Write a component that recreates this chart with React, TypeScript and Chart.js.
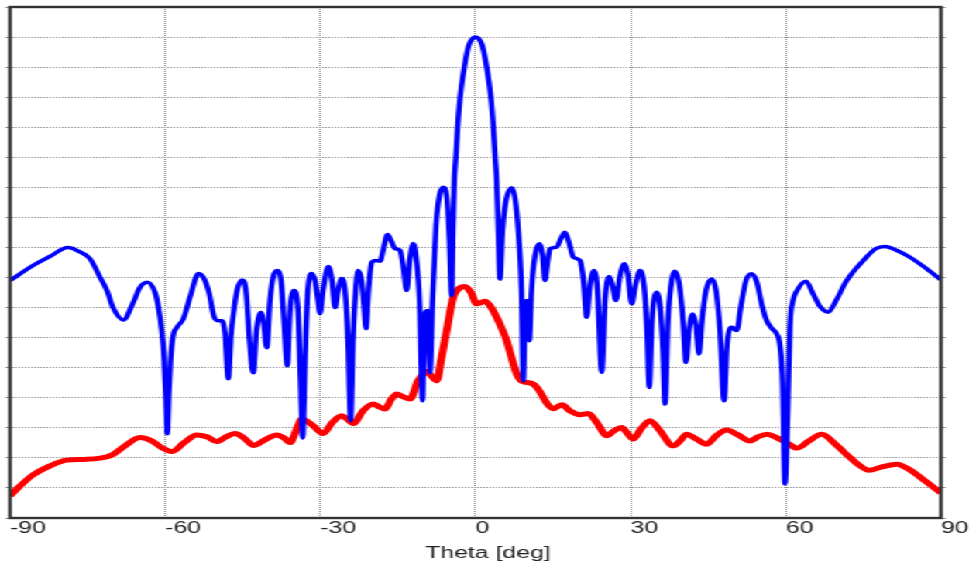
import React, { useEffect, useRef } from 'react';
import { Chart, registerables } from 'chart.js';

Chart.register(...registerables);

// The reference image is horizontally stretched; the chart is drawn narrower and scaled in X.
const CANVAS_W = 630;
const CANVAS_H = 567;
const STRETCH = 976 / CANVAS_W;

const FONT = '"Liberation Sans", Arial, sans-serif';

const xTicks = [-90, -60, -30, 0, 30, 60, 90];
const xTitle = 'Theta [deg]';

// [theta (deg), level (dB)]
const blueSeries: [number, number][] = [
  [-90, -16.2], [-85.55, -15.2], [-82.27, -14.6], [-78.79, -14.0], [-76.46, -14.3], [-74.53, -14.75],
  [-72.6, -15.98], [-71.25, -16.87], [-70.09, -18.0], [-68.09, -18.82], [-66.16, -17.65], [-64.87, -16.65],
  [-63.45, -16.31], [-61.97, -16.98], [-61.29, -18.0], [-60.67, -19.53], [-60.23, -21.2], [-59.84, -24.2],
  [-59.59, -26.4], [-59.26, -23.53], [-58.97, -21.53], [-58.49, -19.93], [-57.71, -19.31], [-56.49, -18.75],
  [-55.2, -17.31], [-53.55, -15.73], [-52.49, -16.07], [-51.53, -17.0], [-50.56, -18.6], [-49.79, -18.87],
  [-49.01, -18.87], [-48.43, -19.73], [-47.79, -22.73], [-47.27, -19.87], [-46.79, -18.4], [-46.11, -16.87],
  [-45.14, -16.17], [-44.37, -16.87], [-43.69, -20.2], [-42.96, -22.33], [-42.34, -19.53], [-41.47, -18.33],
  [-40.89, -19.2], [-40.37, -20.67], [-39.73, -17.53], [-39.15, -16.0], [-38.38, -15.53], [-37.6, -16.2],
  [-37.02, -18.87], [-36.39, -21.87], [-35.86, -18.2], [-35.09, -16.87], [-34.32, -18.2], [-33.83, -22.87],
  [-33.41, -26.67], [-32.96, -21.53], [-32.48, -17.2], [-31.67, -15.73], [-31.03, -16.2], [-30.45, -17.53],
  [-30.06, -18.4], [-29.48, -16.87], [-28.46, -15.27], [-27.74, -16.2], [-27.16, -18.0], [-26.58, -16.87],
  [-25.87, -16.07], [-25.23, -16.87], [-24.65, -20.2], [-24.13, -25.53], [-23.68, -20.2], [-23.1, -16.53],
  [-22.66, -15.53], [-22.04, -16.2], [-21.56, -17.87], [-21.17, -19.4], [-20.69, -16.87], [-20.07, -15.0],
  [-19.24, -14.87], [-18.46, -14.91], [-17.79, -14.07], [-17.01, -13.13], [-16.34, -13.53], [-15.56, -14.07],
  [-14.6, -14.2], [-13.92, -15.4], [-13.3, -16.87], [-12.76, -15.0], [-12.03, -13.73], [-11.41, -14.87],
  [-10.83, -17.53], [-10.25, -24.2], [-9.86, -18.53], [-9.28, -18.2], [-8.8, -22.33], [-8.31, -17.53],
  [-7.64, -12.53], [-6.96, -10.53], [-6.23, -10.0], [-5.51, -10.73], [-5.03, -13.53], [-4.6, -17.2],
  [-4.35, -12.9], [-4.09, -9.53], [-3.8, -8.0], [-3.45, -6.0], [-2.97, -4.0], [-2.16, -2.0],
  [-1.35, -0.6], [-0.7, -0.15], [0, 0], [0.7, -0.15], [1.35, -0.6], [2.16, -2.0],
  [2.97, -4.0], [3.45, -6.0], [3.8, -8.0], [4.09, -9.53], [4.4, -12.9], [4.74, -16.1],
  [5.22, -12.87], [5.9, -10.87], [7.0, -10.02], [7.64, -10.73], [8.27, -12.87], [8.89, -16.87],
  [9.24, -22.87], [9.57, -18.2], [9.96, -17.53], [10.4, -20.2], [10.83, -16.87], [11.5, -14.53],
  [12.34, -13.75], [12.95, -14.53], [13.44, -16.2], [13.92, -15.0], [14.4, -14.09], [15.7, -13.98],
  [16.53, -13.4], [17.3, -12.98], [18.08, -13.67], [18.91, -14.65], [20.2, -14.87], [20.88, -16.2],
  [21.5, -18.65], [22.14, -16.53], [22.91, -15.53], [23.59, -16.87], [24.4, -22.31], [25.04, -17.53],
  [25.87, -15.93], [26.49, -16.53], [27.16, -17.53], [27.94, -15.87], [28.77, -15.09], [29.48, -15.87],
  [30.2, -17.75], [30.93, -16.53], [31.8, -15.53], [32.58, -16.53], [33.16, -19.53], [33.6, -23.31],
  [34.12, -18.87], [35.03, -16.98], [35.77, -18.2], [36.25, -20.87], [36.64, -24.42], [37.22, -18.87],
  [37.8, -16.53], [38.57, -15.58], [39.44, -16.53], [40.12, -18.87], [40.7, -21.65], [41.28, -19.53],
  [41.99, -18.42], [42.63, -19.2], [43.21, -21.09], [43.79, -18.87], [44.56, -16.87], [45.67, -16.09],
  [46.5, -16.87], [47.27, -19.53], [48.05, -24.2], [48.62, -20.53], [49.53, -19.31], [50.5, -19.53],
  [51.33, -17.87], [52.3, -16.2], [53.4, -15.75], [54.42, -16.33], [55.39, -17.87], [56.3, -18.87],
  [57.33, -19.4], [58.23, -19.75], [58.87, -20.53], [59.36, -22.87], [59.84, -29.73], [60.32, -25.53],
  [60.81, -19.2], [61.39, -17.53], [62.16, -16.87], [63.9, -16.25], [65.25, -17.07], [66.61, -17.93],
  [68.21, -18.31], [69.7, -17.53], [71.77, -16.2], [74.98, -14.87], [77.43, -14.07], [79.17, -13.93],
  [81.49, -14.2], [84.0, -14.65], [87.24, -15.42], [90, -16.15],
];

const redSeries: [number, number][] = [
  [-90, -30.53], [-88.07, -29.87], [-85.55, -29.13], [-82.27, -28.53], [-79.04, -28.15], [-75.5, -28.1],
  [-72.6, -28.02], [-70.28, -27.8], [-67.77, -27.2], [-64.87, -26.65], [-62.55, -26.87], [-60.61, -27.33],
  [-58.74, -27.58], [-56.36, -27.0], [-53.9, -26.47], [-51.91, -26.6], [-50.04, -26.91], [-48.24, -26.6],
  [-46.5, -26.38], [-44.76, -26.67], [-42.96, -27.17], [-40.7, -26.8], [-38.44, -26.47], [-37.02, -26.67],
  [-35.86, -26.98], [-34.7, -26.2], [-33.6, -25.42], [-31.61, -25.8], [-29.43, -26.38], [-27.74, -25.67],
  [-25.87, -25.2], [-24.84, -25.4], [-23.63, -25.71], [-21.75, -24.87], [-19.76, -24.42], [-18.66, -24.6],
  [-17.5, -24.75], [-16.34, -24.13], [-15.24, -23.75], [-14.02, -23.93], [-12.66, -24.09], [-11.12, -22.87],
  [-9.43, -22.25], [-8.6, -22.53], [-7.5, -22.87], [-6.67, -21.53], [-5.57, -19.53], [-4.29, -17.31],
  [-3.19, -16.73], [-2.03, -16.6], [-0.87, -17.0], [0.23, -17.75], [1.06, -17.67], [1.84, -17.58],
  [2.8, -17.87], [4.1, -18.65], [4.93, -19.27], [6.03, -20.2], [6.86, -21.2], [7.97, -22.42],
  [8.8, -22.87], [9.9, -22.98], [11.18, -23.09], [12.08, -23.4], [13.11, -23.98], [14.02, -24.47],
  [14.98, -24.73], [16.72, -24.47], [18.27, -24.87], [20.2, -25.13], [21.81, -25.05], [23.49, -25.67],
  [25.37, -26.53], [26.78, -26.2], [28.27, -25.98], [29.29, -26.33], [30.51, -26.75], [32.0, -26.07],
  [33.74, -25.53], [35.67, -26.2], [38.24, -27.2], [39.54, -26.87], [40.83, -26.42], [42.63, -26.73],
  [44.7, -27.09], [46.5, -26.53], [48.57, -26.15], [50.75, -26.47], [53.07, -26.87], [54.62, -26.6],
  [56.36, -26.42], [58.29, -26.67], [60.23, -27.0], [62.16, -27.35], [64.48, -26.87], [66.93, -26.43],
  [69.51, -27.07], [72.41, -27.98], [74.34, -28.53], [76.08, -28.83], [78.59, -28.6], [81.44, -28.42],
  [84.0, -28.8], [86.91, -29.53], [90, -30.33],
];

const yMin = -32;
const yMax = 2;
const yStep = 2;

const framePlugin = {
  id: 'frame',
  afterDraw(chart: any) {
    const { ctx, chartArea: a } = chart;
    ctx.save();
    ctx.strokeStyle = '#333333';
    ctx.lineWidth = 2.4;
    ctx.setLineDash([]);
    ctx.strokeRect(a.left, a.top, a.right - a.left, a.bottom - a.top);
    ctx.restore();
  },
};

export default function App() {
  const ref = useRef<HTMLCanvasElement | null>(null);

  useEffect(() => {
    if (!ref.current) return;
    const gridColor = '#8c8c8c';
    const chart = new Chart(ref.current, {
      type: 'line',
      data: {
        datasets: [
          {
            data: blueSeries.map(([x, y]) => ({ x, y })),
            borderColor: '#0000ff',
            borderWidth: 3.5,
            pointRadius: 0,
            cubicInterpolationMode: 'monotone',
            fill: false,
          },
          {
            data: redSeries.map(([x, y]) => ({ x, y })),
            borderColor: '#ff0000',
            borderWidth: 5,
            pointRadius: 0,
            cubicInterpolationMode: 'monotone',
            fill: false,
          },
        ],
      },
      options: {
        animation: false,
        responsive: false,
        maintainAspectRatio: false,
        devicePixelRatio: 1,
        layout: { padding: { top: 7, left: 0, right: 0, bottom: 0 } },
        plugins: {
          legend: { display: false },
          tooltip: { enabled: false },
          title: {
            display: true,
            position: 'bottom',
            text: xTitle,
            color: '#222222',
            font: { family: FONT, size: 16, weight: 'normal' },
            padding: { top: 2, bottom: 4 },
          },
        },
        scales: {
          x: {
            type: 'linear',
            min: -90,
            max: 90,
            afterBuildTicks: (s: any) => {
              s.ticks = xTicks.map((v) => ({ value: v }));
            },
            afterFit: (s: any) => {
              s.height = 23.8;
            },
            ticks: {
              align: 'start',
              padding: 1,
              color: '#222222',
              autoSkip: false,
              maxRotation: 0,
              font: { family: FONT, size: 16 },
            },
            grid: { color: gridColor, drawTicks: false, lineWidth: 1 },
            border: { display: false, dash: [1, 1] },
          },
          y: {
            type: 'linear',
            position: 'left',
            min: yMin,
            max: yMax,
            afterFit: (s: any) => {
              s.width = 10 / STRETCH;
            },
            ticks: { display: false, stepSize: yStep },
            grid: { color: gridColor, drawTicks: true, tickLength: 3, tickColor: gridColor, lineWidth: 1 },
            border: { display: false, dash: [1, 1] },
          },
          y2: {
            type: 'linear',
            position: 'right',
            min: yMin,
            max: yMax,
            afterFit: (s: any) => {
              s.width = 35 / STRETCH;
            },
            ticks: { display: false, stepSize: yStep },
            grid: { drawOnChartArea: false, drawTicks: true, tickLength: 3, tickColor: gridColor, color: gridColor },
            border: { display: false },
          },
        },
      } as any,
      plugins: [framePlugin],
    });
    return () => chart.destroy();
  }, []);

  return (
    <div
      style={{
        position: 'absolute',
        left: 0,
        top: 0,
        width: CANVAS_W,
        height: CANVAS_H,
        transform: `scaleX(${STRETCH})`,
        transformOrigin: '0 0',
        background: '#ffffff',
      }}
    >
      <canvas ref={ref} width={CANVAS_W} height={CANVAS_H} style={{ display: 'block' }} />
    </div>
  );
}
